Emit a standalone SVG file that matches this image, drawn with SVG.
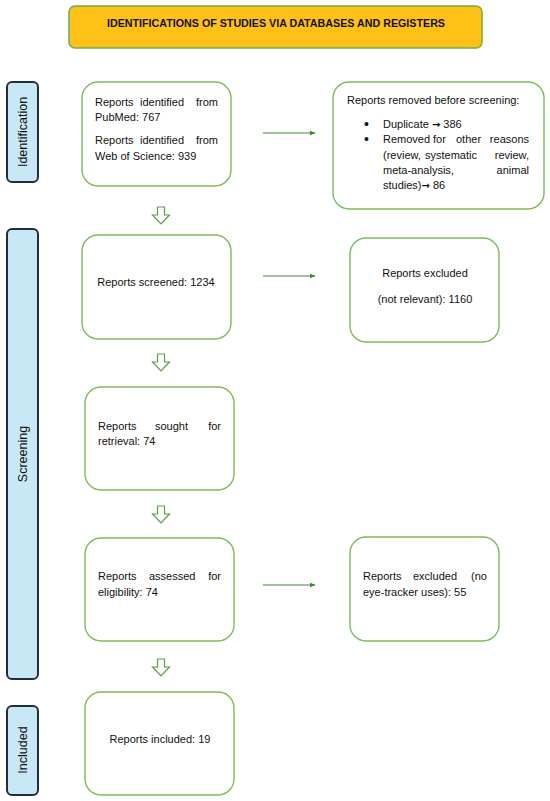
<svg xmlns="http://www.w3.org/2000/svg" width="550" height="801" viewBox="0 0 550 801">
<defs>
<marker id="ah" viewBox="0 0 10 10" refX="9" refY="5" markerWidth="6" markerHeight="6" orient="auto" markerUnits="userSpaceOnUse">
<path d="M0,1 L10,5 L0,9 Z" fill="#3E8A36"/>
</marker>
<style>
.box{fill:#fff;stroke:#7DBB57;stroke-width:1.4}
.side{fill:#C8E8F6;stroke:#1F2E3C;stroke-width:2}
.t{font-family:"Liberation Sans",Arial,sans-serif;font-size:11px;fill:#111}
.c{text-anchor:middle}
.ar{font-family:"DejaVu Sans",sans-serif;font-size:10px;font-weight:bold}
.bul{font-family:"Liberation Sans",Arial,sans-serif;font-size:14px;fill:#111}
.lab{font-family:"Liberation Sans",Arial,sans-serif;font-size:12.5px;fill:#111;text-anchor:middle}
.conn{stroke:#3E8A36;stroke-width:1.2;fill:none}
.down{fill:#fff;stroke:#5E9E48;stroke-width:1.2}
</style>
</defs>
<rect width="550" height="801" fill="#fff"/>

<g id="title">
<rect x="69" y="6" width="413" height="42" rx="6" fill="#FFC117" stroke="#72AE3F" stroke-width="1.5"/>
<text x="276" y="27" font-family="Liberation Sans,Arial,sans-serif" font-size="11" font-weight="bold" text-anchor="middle" textLength="338" lengthAdjust="spacingAndGlyphs" fill="#111">IDENTIFICATIONS OF STUDIES VIA DATABASES AND REGISTERS</text>
</g>

<g id="label-identification">
<rect class="side" x="7" y="82" width="31" height="100" rx="5"/>
<text class="lab" transform="translate(27,132) rotate(-90)">Identification</text>
</g>
<g id="label-screening">
<rect class="side" x="7" y="229" width="31" height="450" rx="5"/>
<text class="lab" transform="translate(27,454) rotate(-90)">Screening</text>
</g>
<g id="label-included">
<rect class="side" x="7" y="706" width="31" height="89" rx="5"/>
<text class="lab" transform="translate(27,750) rotate(-90)">Included</text>
</g>

<g id="identified">
<rect class="box" x="82" y="82" width="149" height="104" rx="16"/>
<text class="t" y="106"><tspan x="95">Reports</tspan><tspan x="140">identified</tspan><tspan x="218" text-anchor="end">from</tspan></text>
<text class="t" x="95" y="121">PubMed: 767</text>
<text class="t" y="144"><tspan x="95">Reports</tspan><tspan x="140">identified</tspan><tspan x="218" text-anchor="end">from</tspan></text>
<text class="t" x="95" y="160">Web of Science: 939</text>
</g>

<g id="removed">
<rect class="box" x="333" y="82" width="211" height="127" rx="16"/>
<text class="t" x="347" y="104">Reports removed before screening:</text>
<text class="bul" x="364" y="129">•</text>
<text class="t" x="383" y="128">Duplicate <tspan class="ar">→</tspan> 386</text>
<text class="bul" x="364" y="144">•</text>
<text class="t" y="143"><tspan x="383">Removed</tspan><tspan x="433">for</tspan><tspan x="456">other</tspan><tspan x="529" text-anchor="end">reasons</tspan></text>
<text class="t" y="159"><tspan x="383">(review,</tspan><tspan x="425">systematic</tspan><tspan x="529" text-anchor="end">review,</tspan></text>
<text class="t" y="174"><tspan x="383">meta-analysis,</tspan><tspan x="529" text-anchor="end">animal</tspan></text>
<text class="t" x="383" y="189">studies)<tspan class="ar">→</tspan> 86</text>
</g>

<g id="screened">
<rect class="box" x="82" y="235" width="149" height="104" rx="16"/>
<text class="t c" x="156" y="286">Reports screened: 1234</text>
</g>

<g id="excluded1">
<rect class="box" x="350" y="238" width="149" height="104" rx="16"/>
<text class="t c" x="425" y="277">Reports excluded</text>
<text class="t c" x="425" y="303">(not relevant): 1160</text>
</g>

<g id="sought">
<rect class="box" x="85" y="387" width="149" height="103" rx="16"/>
<text class="t" y="430"><tspan x="98">Reports</tspan><tspan x="155">sought</tspan><tspan x="221" text-anchor="end">for</tspan></text>
<text class="t" x="98" y="445">retrieval: 74</text>
</g>

<g id="assessed">
<rect class="box" x="85" y="538" width="149" height="103" rx="16"/>
<text class="t" y="580"><tspan x="98">Reports</tspan><tspan x="149">assessed</tspan><tspan x="221" text-anchor="end">for</tspan></text>
<text class="t" x="98" y="596">eligibility: 74</text>
</g>

<g id="excluded2">
<rect class="box" x="350" y="537" width="149" height="104" rx="16"/>
<text class="t" y="580"><tspan x="363">Reports</tspan><tspan x="413">excluded</tspan><tspan x="487" text-anchor="end">(no</tspan></text>
<text class="t" x="363" y="596">eye-tracker uses): 55</text>
</g>

<g id="included">
<rect class="box" x="85" y="692" width="149" height="103" rx="16"/>
<text class="t c" x="160" y="743">Reports included: 19</text>
</g>

<g id="connectors">
<line class="conn" x1="263" y1="133" x2="315" y2="133" marker-end="url(#ah)"/>
<line class="conn" x1="263" y1="276" x2="315" y2="276" marker-end="url(#ah)"/>
<line class="conn" x1="263" y1="585" x2="315" y2="585" marker-end="url(#ah)"/>
<path class="down" d="M157.5,207 H164.5 V215 H169.5 L161,224 L152.5,215 H157.5 Z"/>
<path class="down" d="M157.5,354 H164.5 V362 H169.5 L161,371 L152.5,362 H157.5 Z"/>
<path class="down" d="M157.5,506 H164.5 V514 H169.5 L161,523 L152.5,514 H157.5 Z"/>
<path class="down" d="M157.5,659 H164.5 V667 H169.5 L161,676 L152.5,667 H157.5 Z"/>
</g>
</svg>
